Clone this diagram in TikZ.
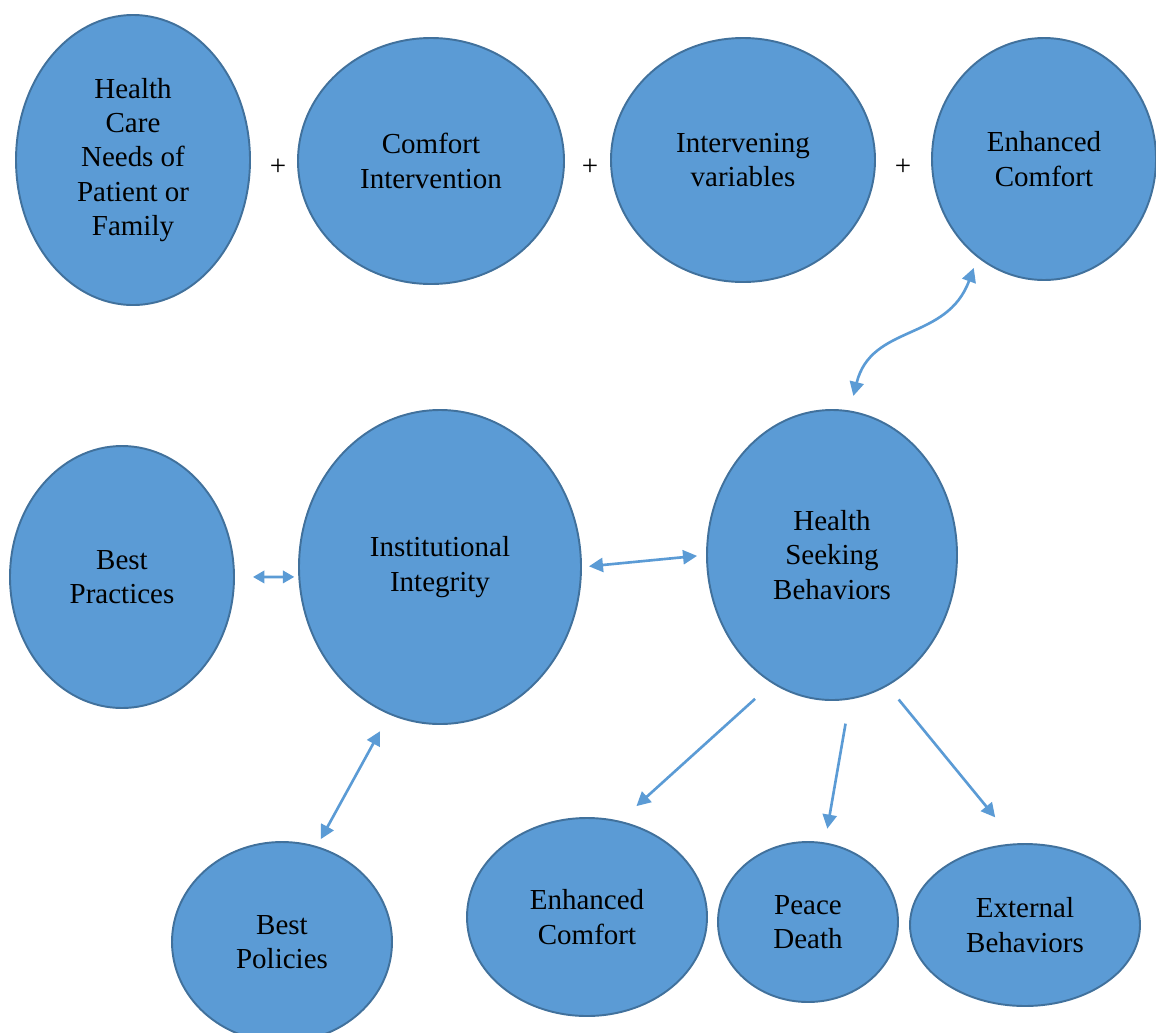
\documentclass[tikz,border=0pt]{standalone}
\usepackage{fontspec}
\setmainfont{Liberation Serif}
\usetikzlibrary{shapes.geometric,arrows.meta}
\definecolor{bubblefill}{HTML}{5B9BD5}
\definecolor{bubblerim}{HTML}{41719C}
\definecolor{linkcol}{HTML}{5B9BD5}
\begin{document}
\begin{tikzpicture}[x=0.02cm,y=-0.02cm,
  bubble/.style 2 args={ellipse, draw=bubblerim, fill=bubblefill, line width=1.1pt,
    inner sep=0pt, minimum width=#1*0.02cm, minimum height=#2*0.02cm,
    align=center, font=\fontsize{16.5}{19.5}\selectfont},
  plus/.style={font=\fontsize{16.5}{19.5}\selectfont, inner sep=0pt},
  link/.style={draw=linkcol, line width=1.5pt, -{Triangle[length=8pt,width=8pt]}},
  dbl/.style={draw=linkcol, line width=1.5pt, {Triangle[length=8pt,width=8pt]}-{Triangle[length=8pt,width=8pt]}},
  smalldbl/.style={draw=linkcol, line width=1.5pt, {Triangle[length=6.5pt,width=7pt]}-{Triangle[length=6.5pt,width=7pt]}}
]
\useasboundingbox (0,0) rectangle (1156,1032);

% top row: the comfort equation
\node[bubble={234}{290}] (needs) at (133,160) {Health\\Care\\Needs of\\Patient or\\Family};
\node[bubble={266}{246}] (ci)    at (431,161) {Comfort\\Intervention};
\node[bubble={264}{244}] (iv)    at (743,160) {Intervening\\variables};
\node[bubble={224}{242}] (ect)   at (1044,159) {Enhanced\\Comfort};
\node[plus] (p1) at (278,167) {+};
\node[plus] (p2) at (590,167) {+};
\node[plus] (p3) at (903,167) {+};

% middle row
\node[bubble={224}{262}] (bp)  at (122,577) {Best\\Practices};
\node[bubble={282}{314}] (ii)  at (440,567) {Institutional\\Integrity};
\node[bubble={250}{290}] (hsb) at (832,555) {Health\\Seeking\\Behaviors};

% bottom row
\node[bubble={220}{200}] (bpol) at (282,942) {Best\\Policies};
\node[bubble={240}{198}] (ecb)  at (587,917) {Enhanced\\Comfort};
\node[bubble={180}{160}] (pd)   at (808,922) {Peace\\Death};
\node[bubble={230}{162}] (ext)  at (1025,925) {External\\Behaviors};

% connectors
\draw[dbl, shorten <=0.30cm, shorten >=0.22cm] (hsb.83) to[out=76,in=250,looseness=1.15] (ect.236);
\draw[smalldbl, shorten <=0.36cm, shorten >=0.08cm] (bp.0) -- (ii.184);
\draw[dbl, shorten <=0.14cm, shorten >=0.18cm] (ii.0) -- (hsb.180);
\draw[dbl, shorten <=0.38cm, shorten >=0.16cm] (ii.251) -- (bpol.70);
\draw[link, shorten <=0.46cm, shorten >=0.44cm] (hsb.245) -- (ecb.71);
\draw[link, shorten <=0.49cm, shorten >=0.28cm] (hsb.277) -- (pd.78);
\draw[link, shorten <=0.35cm, shorten >=0.67cm] (hsb.293.5) -- (ext.96.4);
\end{tikzpicture}
\end{document}
